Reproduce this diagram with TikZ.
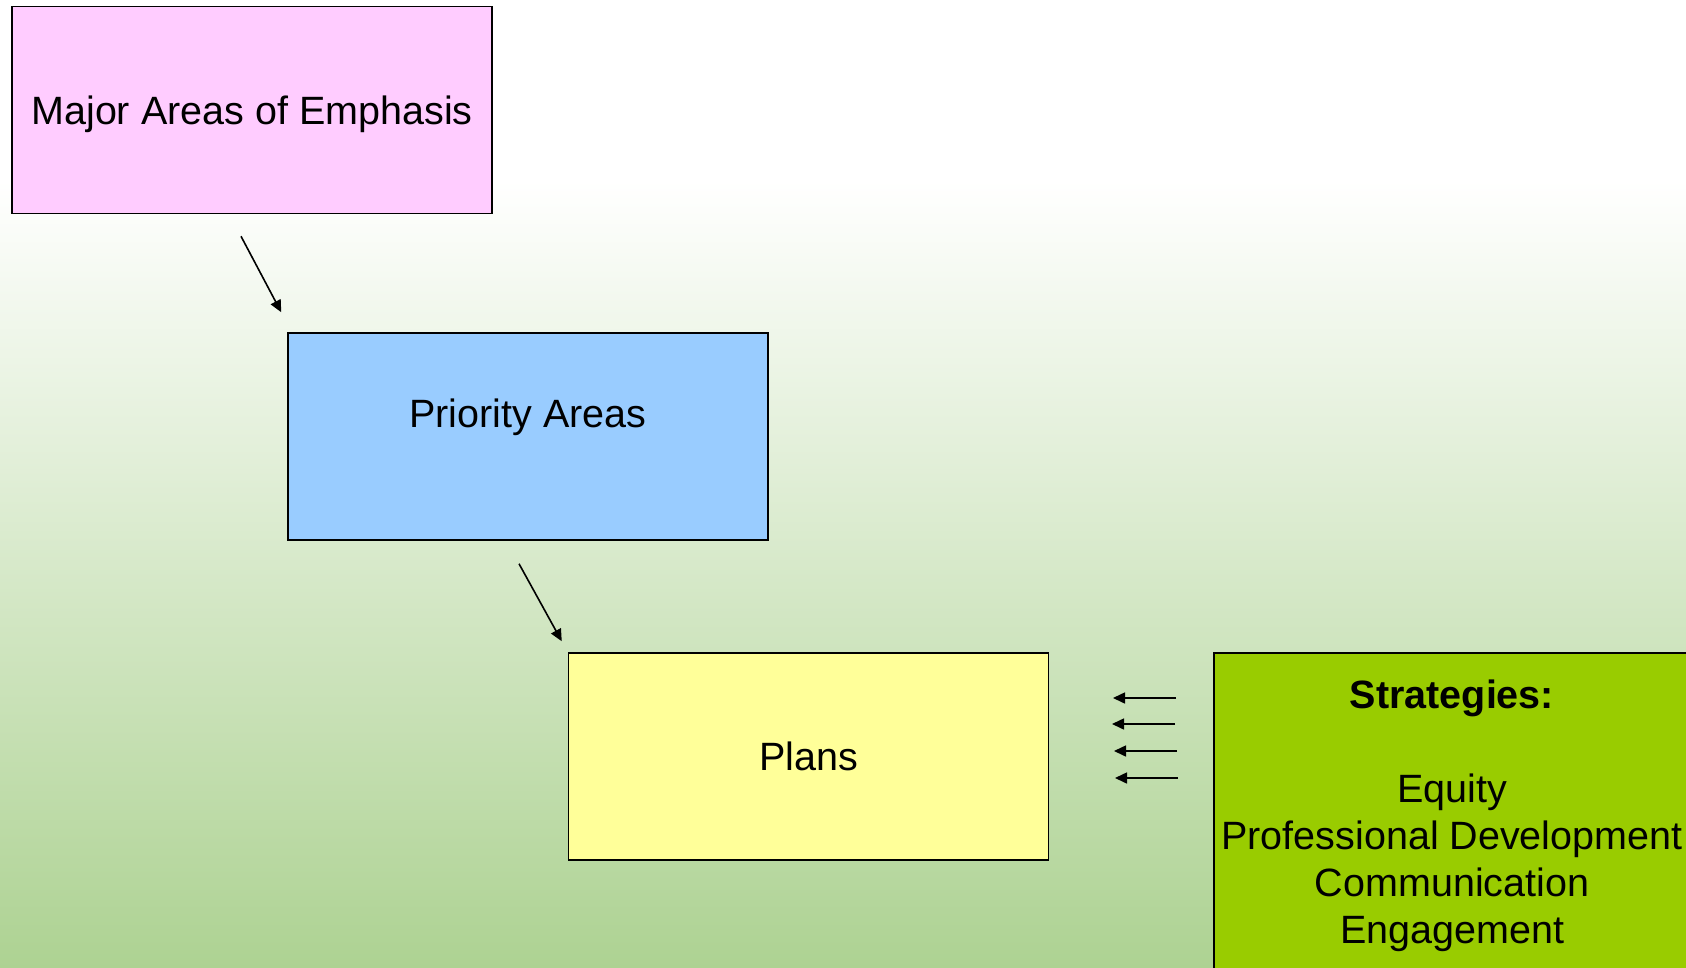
\documentclass[tikz,border=0pt]{standalone}
\usepackage{fontspec}
\setmainfont{Liberation Sans}
\usetikzlibrary{arrows.meta}
\definecolor{pinkbox}{HTML}{FFCCFF}
\definecolor{bluebox}{HTML}{99CCFF}
\definecolor{yellowbox}{HTML}{FFFF99}
\definecolor{greenbox}{HTML}{99CC00}
\definecolor{bggreen}{RGB}{173,210,146}
\begin{document}
\begin{tikzpicture}[x=1pt,y=-1pt,
  box/.style={draw=black, line width=1.5pt, minimum width=480pt, minimum height=207pt, inner sep=0pt},
  bigtext/.style={font=\fontsize{39.5}{47}\selectfont},
  arr/.style={line width=1.6pt, -{Triangle[length=12pt,width=11pt]}},
]
\clip (0,0) rectangle (1686,968);
\fill[white] (0,0) rectangle (1686,182);
\shade[top color=white, bottom color=bggreen] (0,180) rectangle (1686,968);

\node[box, fill=pinkbox, bigtext, text depth=0pt] (maj) at (252,110) {Major Areas of Emphasis};
\node[box, fill=bluebox] (pri) at (528,436.5) {};
\node[bigtext, anchor=base] (pritext) at (528,427) {Priority Areas};
\node[box, fill=yellowbox, bigtext] (plans) at (808.5,756.5) {Plans};
\node[box, fill=greenbox, minimum height=400pt, anchor=north west] (str) at (1213,652) {};
\node[bigtext, align=center, anchor=base] (strtext) at (1452,943)
  {\textbf{Strategies:}\\[47pt]Equity\\Professional Development\\Communication\\Engagement};

\coordinate (a1s) at ([xshift=-11pt,yshift=-22pt]maj.south);
\coordinate (a1e) at ([xshift=-6pt,yshift=20pt]pri.north west);
\coordinate (a2s) at ([xshift=-9pt,yshift=-23pt]pri.south);
\coordinate (a2e) at ([xshift=-6pt,yshift=11pt]plans.north west);
\draw[arr] (a1s) -- (a1e);
\draw[arr] (a2s) -- (a2e);

\coordinate (h1s) at (1176,698); \coordinate (h1e) at (1113,698);
\coordinate (h2s) at (1175,724); \coordinate (h2e) at (1112,724);
\coordinate (h3s) at (1177,751); \coordinate (h3e) at (1114,751);
\coordinate (h4s) at (1178,778); \coordinate (h4e) at (1115,778);
\draw[arr] (h1s) -- (h1e);
\draw[arr] (h2s) -- (h2e);
\draw[arr] (h3s) -- (h3e);
\draw[arr] (h4s) -- (h4e);
\end{tikzpicture}
\end{document}
